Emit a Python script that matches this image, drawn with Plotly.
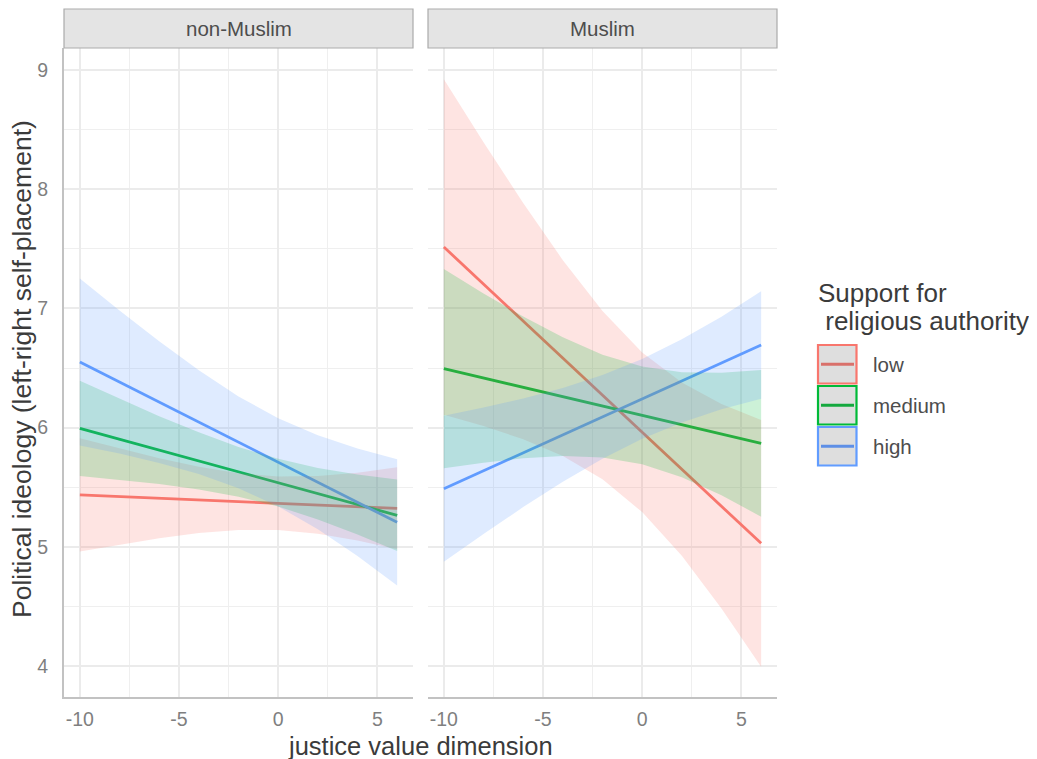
import plotly.graph_objects as go

# ---------------- data ----------------
X_GRID = [-10, -8, -6, -4, -2, 0, 2, 4, 6]
FACETS = ["non-Muslim", "Muslim"]
GROUPS = ["low", "medium", "high"]
X_TICKS = [-10, -5, 0, 5]
X_TICK_TEXT = ["-10", "-5", "0", "5"]
Y_TICKS = [4, 5, 6, 7, 8, 9]

# non-Muslim panel
NM_LOW_FIT = [5.435, 5.421, 5.407, 5.393, 5.379, 5.365, 5.351, 5.337, 5.323]
NM_LOW_UPPER = [5.910, 5.823, 5.742, 5.671, 5.617, 5.590, 5.593, 5.622, 5.667]
NM_LOW_LOWER = [4.960, 5.019, 5.072, 5.115, 5.141, 5.141, 5.109, 5.052, 4.979]
NM_MED_FIT = [5.994, 5.903, 5.811, 5.720, 5.629, 5.538, 5.446, 5.355, 5.264]
NM_MED_UPPER = [6.394, 6.243, 6.096, 5.960, 5.838, 5.738, 5.662, 5.606, 5.564]
NM_MED_LOWER = [5.594, 5.563, 5.526, 5.480, 5.420, 5.338, 5.230, 5.104, 4.964]
NM_HIGH_FIT = [6.550, 6.382, 6.214, 6.046, 5.877, 5.709, 5.541, 5.373, 5.205]
NM_HIGH_UPPER = [7.250, 6.982, 6.724, 6.481, 6.262, 6.079, 5.935, 5.824, 5.735]
NM_HIGH_LOWER = [5.850, 5.782, 5.704, 5.611, 5.492, 5.339, 5.147, 4.922, 4.675]

# Muslim panel
M_LOW_FIT = [7.515, 7.204, 6.893, 6.583, 6.272, 5.961, 5.651, 5.340, 5.029]
M_LOW_UPPER = [8.922, 8.394, 7.884, 7.405, 6.978, 6.631, 6.378, 6.197, 6.064]
M_LOW_LOWER = [6.108, 6.014, 5.902, 5.761, 5.566, 5.291, 4.924, 4.483, 3.994]
M_MED_FIT = [6.494, 6.416, 6.337, 6.259, 6.181, 6.103, 6.024, 5.946, 5.868]
M_MED_UPPER = [7.330, 7.126, 6.932, 6.757, 6.612, 6.513, 6.464, 6.460, 6.483]
M_MED_LOWER = [5.658, 5.706, 5.742, 5.761, 5.750, 5.693, 5.584, 5.432, 5.253]
M_HIGH_FIT = [5.487, 5.638, 5.789, 5.939, 6.090, 6.241, 6.392, 6.542, 6.693]
M_HIGH_UPPER = [6.099, 6.168, 6.245, 6.333, 6.441, 6.576, 6.741, 6.931, 7.143]
M_HIGH_LOWER = [4.875, 5.108, 5.333, 5.545, 5.739, 5.906, 6.043, 6.153, 6.243]

PANELS = {
    "non-Muslim": {
        "low": (NM_LOW_FIT, NM_LOW_LOWER, NM_LOW_UPPER),
        "medium": (NM_MED_FIT, NM_MED_LOWER, NM_MED_UPPER),
        "high": (NM_HIGH_FIT, NM_HIGH_LOWER, NM_HIGH_UPPER),
    },
    "Muslim": {
        "low": (M_LOW_FIT, M_LOW_LOWER, M_LOW_UPPER),
        "medium": (M_MED_FIT, M_MED_LOWER, M_MED_UPPER),
        "high": (M_HIGH_FIT, M_HIGH_LOWER, M_HIGH_UPPER),
    },
}

# ---------------- style ----------------
COLORS = {"low": "#F8766D", "medium": "#00BA38", "high": "#619CFF"}
FILLS = {"low": "rgba(248,118,109,0.2)", "medium": "rgba(0,186,56,0.2)",
         "high": "rgba(97,156,255,0.2)"}
KEY_LINE = {"low": "#D9706A", "medium": "#14A83E", "high": "#5E8FE6"}
FONT = "Liberation Sans, Arial, Helvetica, sans-serif"

# the page body has an 8px margin, so the figure is 8px smaller and
# every target page position is shifted by that offset
OFF = 8
W, H = 1037 - OFF, 759 - OFF
ML, MR, MT, MB = 64 - OFF, 260, 48 - OFF, 62
PW, PH = W - ML - MR, H - MT - MB


def px(xp):
    """page x pixel -> paper coordinate"""
    return (xp - OFF - ML) / PW


def py(yp):
    """page y pixel -> paper coordinate"""
    return (H - MB - (yp - OFF)) / PH


fig = go.Figure()
AX = [("x", "y"), ("x2", "y2")]

for i, facet in enumerate(FACETS):
    xa, ya = AX[i]
    # lines first (ribbons drawn on top, as in the reference)
    for g in GROUPS:
        fit, lo, up = PANELS[facet][g]
        fig.add_trace(go.Scatter(x=X_GRID, y=fit, mode="lines",
                                 line=dict(color=COLORS[g], width=2.8),
                                 xaxis=xa, yaxis=ya, showlegend=False,
                                 hoverinfo="skip"))
    for g in GROUPS:
        fit, lo, up = PANELS[facet][g]
        fig.add_trace(go.Scatter(x=X_GRID + X_GRID[::-1], y=up + lo[::-1],
                                 mode="lines", fill="toself",
                                 fillcolor=FILLS[g], line=dict(width=0),
                                 xaxis=xa, yaxis=ya, showlegend=False,
                                 hoverinfo="skip"))

axis_common = dict(
    showgrid=True, gridcolor="#EBEBEB", gridwidth=1.8, zeroline=False,
    ticks="", tickfont=dict(family=FONT, size=19.5, color="#7F7F7F"),
)
xcommon = dict(axis_common, range=[-10.8, 6.8], tickvals=X_TICKS,
               ticktext=X_TICK_TEXT,
               minor=dict(tickvals=[-7.5, -2.5, 2.5], showgrid=True,
                          gridcolor="#EFEFEF", gridwidth=1.1),
               showline=True, linecolor="#C2C2C2", linewidth=1.8,
               ticklabelstandoff=4)
ycommon = dict(axis_common, range=[3.74, 9.1846], tickvals=Y_TICKS,
               minor=dict(tickvals=[4.5, 5.5, 6.5, 7.5, 8.5], showgrid=True,
                          gridcolor="#EFEFEF", gridwidth=1.1))

fig.update_layout(
    width=W, height=H,
    margin=dict(l=ML, r=MR, t=MT, b=MB, pad=0),
    paper_bgcolor="white", plot_bgcolor="white",
    showlegend=False,
    xaxis=dict(xcommon, domain=[0, px(413)], anchor="y"),
    xaxis2=dict(xcommon, domain=[px(428), 1], anchor="y2"),
    yaxis=dict(ycommon, domain=[0, 1], anchor="x", showline=True,
               linecolor="#C2C2C2", linewidth=1.8, ticklabelstandoff=10),
    yaxis2=dict(ycommon, domain=[0, 1], anchor="x2", showticklabels=False,
                showline=False),
)

shapes = []
annotations = []

# facet strips
for i, facet in enumerate(FACETS):
    xa = "x" if i == 0 else "x2"
    ya = "y" if i == 0 else "y2"
    shapes.append(dict(type="rect", xref=f"{xa} domain", yref=f"{ya} domain",
                       x0=0, x1=1, y0=1, y1=1 + 39 / PH,
                       fillcolor="#E4E4E4", line=dict(color="#ABABAB", width=1.2),
                       layer="above"))
    annotations.append(dict(text=facet, xref=f"{xa} domain", yref=f"{ya} domain",
                            x=0.5, y=1 + 19.5 / PH, showarrow=False,
                            xanchor="center", yanchor="middle",
                            font=dict(family=FONT, size=20.5, color="#4D4D4D")))

# axis titles
annotations.append(dict(text="justice value dimension", xref="paper", yref="paper",
                        x=px(420.5), y=py(746), showarrow=False,
                        xanchor="center", yanchor="middle",
                        font=dict(family=FONT, size=25.5, color="#3B3B3B")))
annotations.append(dict(text="Political ideology (left-right self-placement)",
                        xref="paper", yref="paper", x=px(22), y=py(369),
                        showarrow=False, textangle=-90,
                        xanchor="center", yanchor="middle",
                        font=dict(family=FONT, size=26.5, color="#3B3B3B")))

# legend (drawn manually, ggplot style)
annotations.append(dict(text="Support for", xref="paper", yref="paper",
                        x=px(816), y=py(293), showarrow=False,
                        xanchor="left", yanchor="middle",
                        font=dict(family=FONT, size=26, color="#3B3B3B")))
annotations.append(dict(text="\u00a0religious authority", xref="paper", yref="paper",
                        x=px(816), y=py(321), showarrow=False,
                        xanchor="left", yanchor="middle",
                        font=dict(family=FONT, size=26, color="#3B3B3B")))
KEY_TOPS = [345, 386, 427]
for g, top in zip(GROUPS, KEY_TOPS):
    bot = top + 38.5
    mid = (top + bot) / 2
    shapes.append(dict(type="rect", xref="paper", yref="paper",
                       x0=px(818), x1=px(856.5), y0=py(bot), y1=py(top),
                       fillcolor="#DEDEDE", line=dict(color=COLORS[g], width=2.2)))
    shapes.append(dict(type="line", xref="paper", yref="paper",
                       x0=px(821), x1=px(854), y0=py(mid), y1=py(mid),
                       line=dict(color=KEY_LINE[g], width=2.8)))
    annotations.append(dict(text=g, xref="paper", yref="paper",
                            x=px(871), y=py(mid), showarrow=False,
                            xanchor="left", yanchor="middle",
                            font=dict(family=FONT, size=20.5, color="#4D4D4D")))

fig.update_layout(shapes=shapes, annotations=annotations)
fig.write_html("out.html")
